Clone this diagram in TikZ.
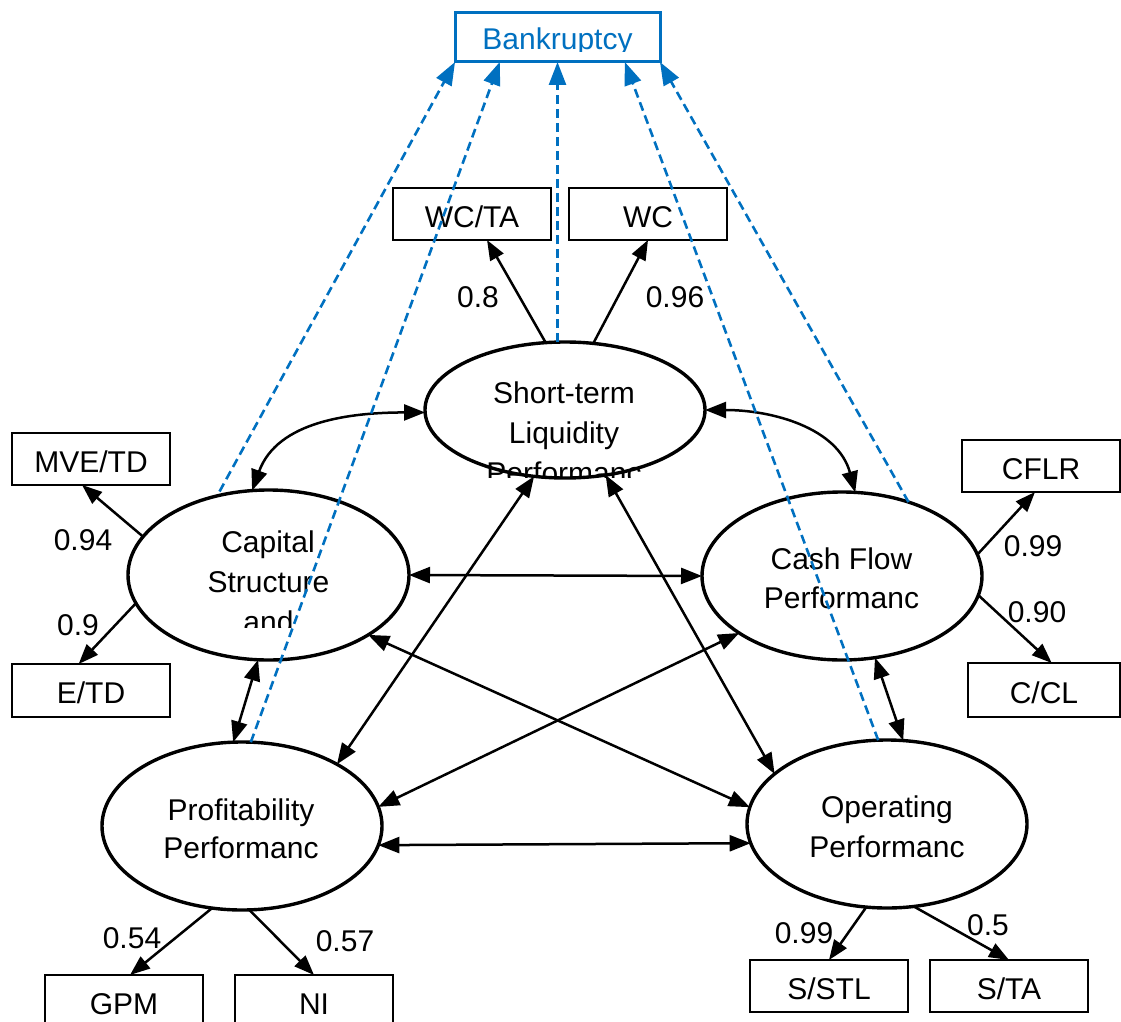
\documentclass[tikz,border=0pt]{standalone}
\usepackage{fontspec}
\setmainfont{Liberation Sans}
\usetikzlibrary{arrows.meta,shapes.geometric}
\definecolor{bkblue}{HTML}{0070C0}
\newcommand\diagfont{\fontsize{30}{39}\selectfont}
\begin{document}
\begin{tikzpicture}[x=1pt,y=-1pt,
  lat/.style={draw, ellipse, line width=3.4pt, minimum width=280pt, minimum height=168pt, inner sep=0pt, outer sep=0pt},
  obs/.style={draw, rectangle, line width=2pt, minimum width=158pt, minimum height=52pt, inner sep=0pt, outer sep=0pt, font=\diagfont, text height=26pt, text depth=0pt},
  txt/.style={font=\diagfont, anchor=base, inner sep=0pt},
  load/.style={line width=2.5pt, -{Triangle[length=20pt,width=15pt]}},
  cov/.style={line width=2.5pt, {Triangle[length=21pt,width=16pt]}-{Triangle[length=21pt,width=16pt]}},
  bkr/.style={bkblue, line width=2.6pt, dash pattern=on 9pt off 5pt, -{Triangle[length=23pt,width=17pt]}},
]
\useasboundingbox (0,0) rectangle (1121,1022);

% latent variables
\node[lat, minimum height=136pt] (stl) at (565,410) {};
\node[lat, minimum width=281pt, minimum height=170pt] (cap) at (268.5,575) {};
\node[lat] (cf) at (842,576) {};
\node[lat] (pro) at (242,826) {};
\node[lat] (ope) at (887,824) {};

% latent texts
\begin{scope}
  \clip (425,340) rectangle (705,477);
  \node[txt] (stl1) at (564,403) {Short-term};
  \node[txt] (stl2) at (564,443) {Liquidity};
  \node[txt] (stl3) at (564,483) {Performanc};
\end{scope}
\begin{scope}
  \clip (128,490) rectangle (409,627);
  \node[txt] (cap1) at (268,552) {Capital};
  \node[txt] (cap2) at (268.5,592) {Structure};
  \node[txt] (cap3) at (268.5,632) {and};
\end{scope}
\node[txt] (cf1) at (841.5,569) {Cash Flow};
\node[txt] (cf2) at (841.5,608) {Performanc};
\node[txt] (pro1) at (241,820) {Profitability};
\node[txt] (pro2) at (241,858) {Performanc};
\node[txt] (ope1) at (887,817) {Operating};
\node[txt] (ope2) at (887,857) {Performanc};

% Bankruptcy
\node[draw=bkblue, line width=3pt, minimum width=205pt, minimum height=49pt, inner sep=0pt, outer sep=0pt] (bk) at (557.5,37.5) {};
\begin{scope}
  \clip (455,13) rectangle (660,52);
  \node[txt, text=bkblue] (bktext) at (557.5,50) {Bankruptcy};
\end{scope}

% observed variables
\node[obs] (wcta) at (472,214) {WC/TA};
\node[obs] (wc) at (648,214) {WC};
\node[obs] (mve) at (91,459) {MVE/TD};
\node[obs, minimum height=53pt] (etd) at (91,690.5) {E/TD};
\node[obs] (cflr) at (1041,466) {CFLR};
\node[obs, minimum width=152pt, minimum height=54pt] (ccl) at (1044,690) {C/CL};
\node[obs] (gpm) at (124,1001) {GPM};
\node[obs] (ni) at (314,1001) {NI};
\node[obs] (sstl) at (829,986) {S/STL};
\node[obs] (sta) at (1009,986) {S/TA};

% loadings
\draw[load] (stl.106.4) -- (wcta.300);
\draw[load] (stl.67.6) -- (wc.south);
\draw[load] (cap.163.7) -- (mve.251);
\draw[load] (cap.192.9) -- (etd.115.3);
\draw[load] (cf.9.6) -- (cflr.257);
\draw[load] (cf.352) -- (ccl.74);
\draw[load] (pro.250.7) -- (gpm.77);
\draw[load] (pro.275.5) -- (ni.north);
\draw[load] (ope.256.6) -- (sstl.north);
\draw[load] (ope.288.4) -- (sta.north);

% loading values
\node[txt] (l1) at (478,307) {0.8};
\node[txt] (l2) at (675,307) {0.96};
\node[txt] (l3) at (83,550) {0.94};
\node[txt] (l4) at (78,635) {0.9};
\node[txt] (l5) at (1033,556) {0.99};
\node[txt] (l6) at (1037,622) {0.90};
\node[txt] (l7) at (132,948) {0.54};
\node[txt] (l8) at (345,951) {0.57};
\node[txt] (l9) at (804,943) {0.99};
\node[txt] (l10) at (988,935) {0.5};

% covariances
\draw[cov] (cap.101) to[out=70,in=180] (stl.181);
\draw[cov] (stl.east) to[out=0,in=105] (cf.81);
\draw[cov] (cap.east) -- (cf.west);
\draw[cov] (cap.263) -- (pro.96.8);
\draw[cov] (cf.292.6) -- (ope.79.2);
\draw[cov] (pro.352) -- (ope.188);
\draw[cov] (stl.245.4) -- (pro.33.6);
\draw[cov] (stl.302.7) -- (ope.156.9);
\draw[cov] (cap.329.8) -- (ope.173.5);
\draw[cov] (cf.209.3) -- (pro.8.7);

% paths to bankruptcy
\draw[bkr, shorten <=5pt] (cap.123) -- (bk.south west);
\draw[bkr] (pro.84.6) -- (bk.203.1);
\draw[bkr] (bk.south |- stl.north) -- (bk.south);
\draw[bkr] (ope.96.1) -- (bk.340.6);
\draw[bkr] (cf.48.3) -- (bk.south east);
\end{tikzpicture}
\end{document}
